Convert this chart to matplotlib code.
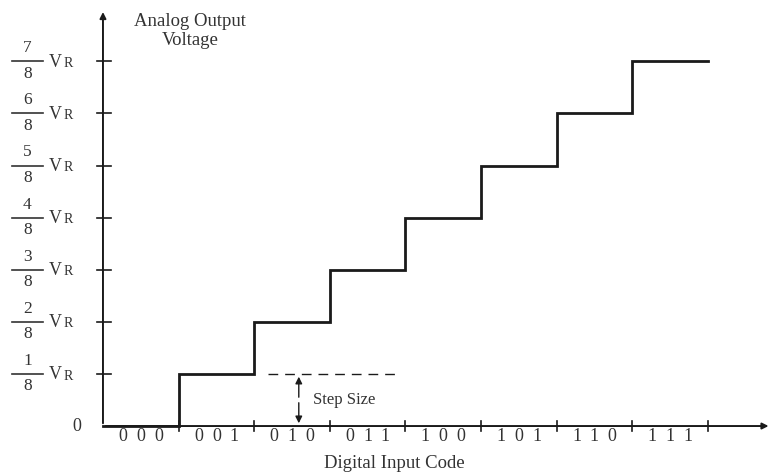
import matplotlib.pyplot as plt
from matplotlib.lines import Line2D

plt.rcParams['font.family'] = ['Liberation Serif', 'DejaVu Serif']

# data
codes = ['000', '001', '010', '011', '100', '101', '110', '111']
levels = [0, 1, 2, 3, 4, 5, 6, 7]          # output in eighths of VR
y_fracs = [1, 2, 3, 4, 5, 6, 7]            # tick labels n/8 VR

ink = '#1a1a1a'
txt = '#333333'

fig = plt.figure(figsize=(7.72, 4.75), dpi=100)
ax = fig.add_axes([0, 0, 1, 1])
ax.set_xlim(-1.362, 8.849)
ax.set_ylim(-0.940, 8.177)
ax.axis('off')

# axes with arrows
ax.annotate('', xy=(8.84, 0), xytext=(0, 0),
            arrowprops=dict(arrowstyle='-|>', color=ink, lw=1.4, mutation_scale=9))
ax.annotate('', xy=(0, 8.0), xytext=(0, 0),
            arrowprops=dict(arrowstyle='-|>', color=ink, lw=1.4, mutation_scale=9))

# staircase: level k held over code interval [k, k+1]
xs, ys = [0], [levels[0]]
for k, lv in enumerate(levels):
    if k > 0:
        xs.append(k)
        ys.append(lv)
    xs.append(k + 1)
    ys.append(lv)
ax.plot(xs, ys, color=ink, lw=2.0, solid_joinstyle='miter')

# x ticks and code labels (digits spread out like the original)
for k in range(1, len(codes) + 1):
    ax.plot([k, k], [-0.1, 0.1], color=ink, lw=1.2)
for k, c in enumerate(codes):
    for j, d in enumerate(c):
        ax.text(k + 0.5 + (j - 1) * 0.235, -0.21, d, ha='center', va='center',
                fontsize=13, color=txt)

# y ticks and fraction labels
for n in y_fracs:
    ax.plot([-0.08, 0.1], [n, n], color=ink, lw=1.2)
    ax.text(-1.0, n + 0.25, str(n), ha='center', va='center', fontsize=12.5, color=txt)
    ax.text(-1.0, n - 0.24, '8', ha='center', va='center', fontsize=12.5, color=txt)
    ax.add_line(Line2D([-1.2, -0.79], [n, n], color=txt, lw=1.2))
    ax.text(-0.72, n - 0.02, 'V', ha='left', va='center', fontsize=13, color=txt)
    ax.text(-0.52, n - 0.04, 'R', ha='left', va='center', fontsize=10, color=txt)
ax.text(-0.35, 0.0, '0', ha='center', va='center', fontsize=13, color=txt)

# step size annotation
ax.plot([2.18, 3.9], [1, 1], color=ink, lw=1.0, dashes=(7, 5))
ax.annotate('', xy=(2.59, 1.0), xytext=(2.59, 0.5),
            arrowprops=dict(arrowstyle='-|>', color=ink, lw=1.0, mutation_scale=10))
ax.annotate('', xy=(2.59, 0.0), xytext=(2.59, 0.5),
            arrowprops=dict(arrowstyle='-|>', color=ink, lw=1.0, mutation_scale=10))
ax.text(2.78, 0.5, 'Step Size', ha='left', va='center', fontsize=12, color=txt)

# axis titles
ax.text(1.15, 7.58, 'Analog Output\nVoltage', ha='center', va='center',
        fontsize=13.5, color=txt, linespacing=1.15)
ax.text(3.85, -0.71, 'Digital Input Code', ha='center', va='center',
        fontsize=13.5, color=txt)

fig.savefig('out.png', dpi=100)
